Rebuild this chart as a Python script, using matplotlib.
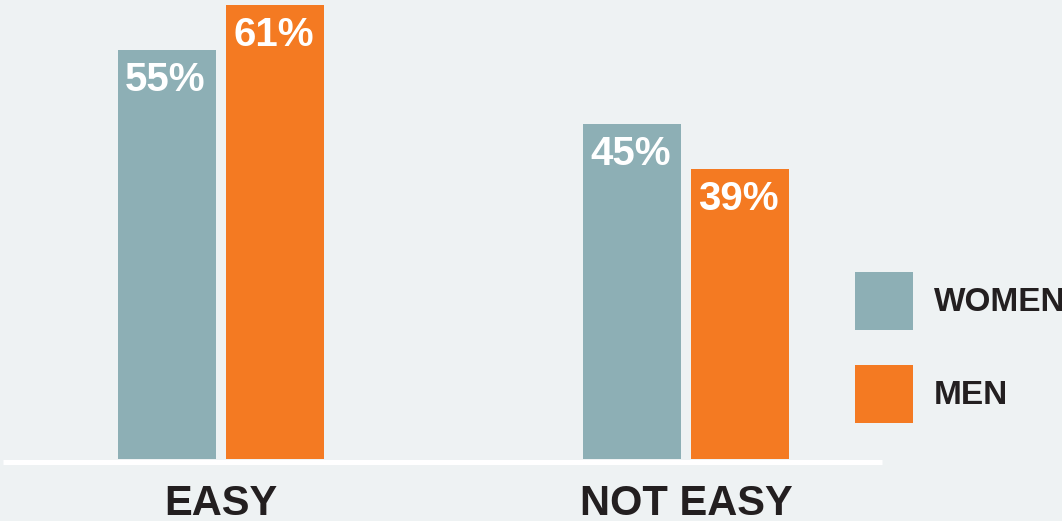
import matplotlib
matplotlib.use("Agg")
import matplotlib.pyplot as plt
import matplotlib.transforms as mtransforms
import numpy as np

categories = ["EASY", "NOT EASY"]
series_names = ["WOMEN", "MEN"]
women = [55, 45]
men = [61, 39]
value_labels_women = ["55%", "45%"]
value_labels_men = ["61%", "39%"]

BG = "#EEF2F3"
TEAL = "#8DAFB5"
ORANGE = "#F47A22"
DARK = "#231F20"

W, H = 1062, 521
DPI = 100
plt.rcParams['font.family'] = ['Liberation Sans', 'DejaVu Sans']
fig = plt.figure(figsize=(W / DPI, H / DPI), dpi=DPI, facecolor=BG)

# axes in pixel geometry
ax_left, ax_right = 3, 882
base_y = 459  # pixel from top
ax = fig.add_axes([ax_left / W, (H - base_y) / H, (ax_right - ax_left) / W, base_y / H])
ax.set_facecolor(BG)
for s in ax.spines.values():
    s.set_visible(False)

group_px = 465.0
x0_px = 221.0
ax.set_xlim((ax_left - x0_px) / group_px, (ax_right - x0_px) / group_px)
px_per_pct = 7.44
ax.set_ylim(0, base_y / px_per_pct)

width = 98 / group_px
off = 54 / group_px
x = np.arange(len(categories))
b1 = ax.bar(x - off, women, width, color=TEAL, label=series_names[0])
b2 = ax.bar(x + off, men, width, color=ORANGE, label=series_names[1])
ax.set_xticks([])
ax.set_yticks([])

for bars, labels in ((b1, value_labels_women), (b2, value_labels_men)):
    for r, lab in zip(bars, labels):
        ax.annotate(lab, xy=(r.get_x(), r.get_height()), xytext=(7, -41),
                    textcoords='offset pixels', ha='left', va='baseline',
                    color='white', fontsize=29, fontweight='bold')

# baseline white line
fig.add_artist(plt.Line2D([ax_left / W, ax_right / W],
                          [(H - 461.5) / H, (H - 461.5) / H],
                          color='white', linewidth=5 * 72 / DPI,
                          solid_capstyle='butt'))

# category labels
trans = mtransforms.blended_transform_factory(ax.transData, fig.transFigure)
for i, c in enumerate(categories):
    ax.text(i, (H - 515) / H, c, transform=trans, ha='center', va='baseline',
            fontsize=30, fontweight='bold', color=DARK, clip_on=False)

fs_leg = 24
fpx = fs_leg * DPI / 72
sq = 58
hh = (sq / fpx - 0.245) / 0.65
leg = fig.legend(handles=[b1, b2], labels=series_names, loc='upper left',
                 bbox_to_anchor=(855 / W, (H - 272) / H), frameon=False,
                 borderpad=0, borderaxespad=0,
                 handlelength=sq / fpx, handleheight=hh,
                 handletextpad=21 / fpx, labelspacing=35 / fpx,
                 prop={'weight': 'bold', 'size': fs_leg})
for t in leg.get_texts():
    t.set_color(DARK)

fig.savefig("out.png", dpi=DPI, facecolor=BG)
